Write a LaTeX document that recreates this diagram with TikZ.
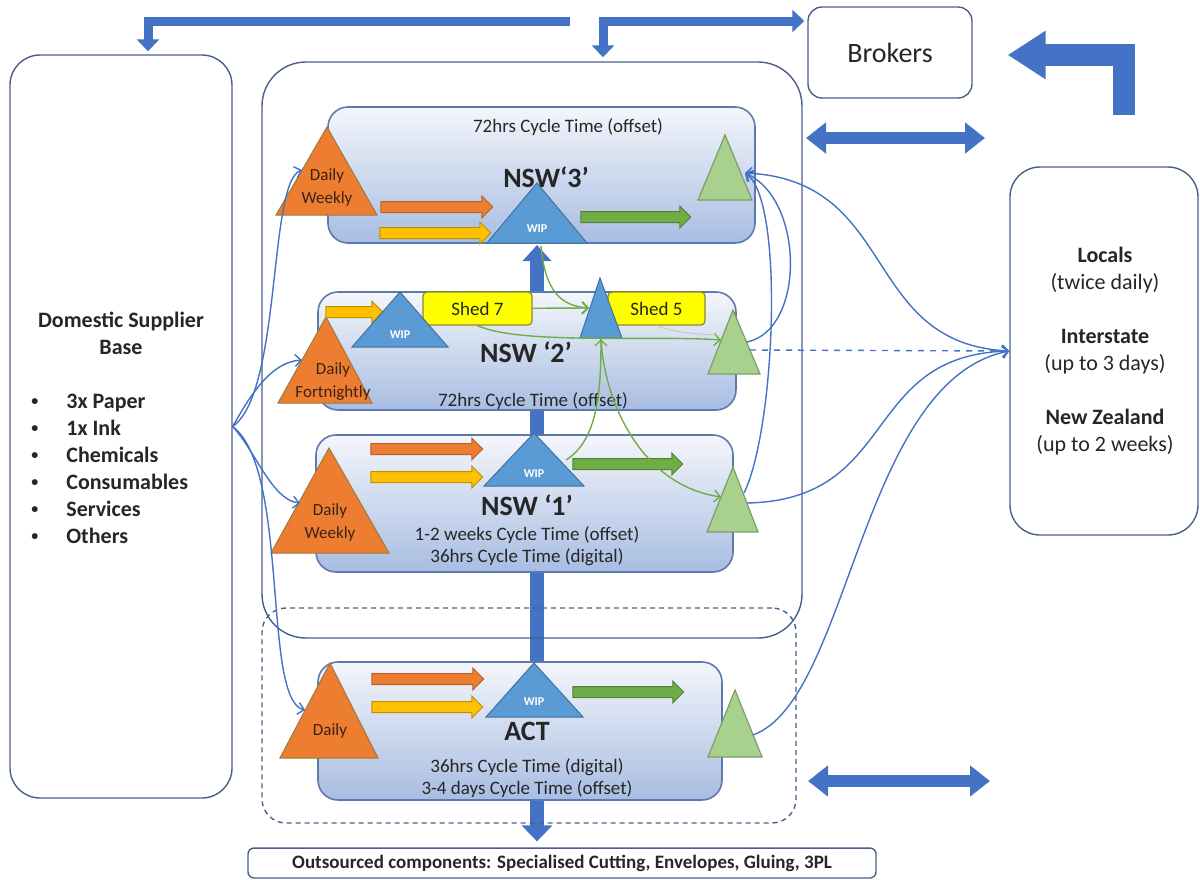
\documentclass[tikz,border=0pt]{standalone}
\usepackage{fontspec}
\setmainfont{Carlito}
\usetikzlibrary{arrows.meta,shapes.arrows}

\definecolor{linkblue}{HTML}{4472C4}
\definecolor{frame}{HTML}{4A5E8C}
\definecolor{plantedge}{HTML}{5D7AAE}
\definecolor{planttop}{HTML}{F4F6FB}
\definecolor{plantbot}{HTML}{A8BDE2}
\definecolor{supplyfill}{HTML}{ED7D31}
\definecolor{supplyedge}{HTML}{9A7B3A}
\definecolor{supplytext}{HTML}{3A2414}
\definecolor{orangeedge}{HTML}{B8612A}
\definecolor{feedfill}{HTML}{FFC000}
\definecolor{feededge}{HTML}{C09000}
\definecolor{wipfill}{HTML}{5B9BD5}
\definecolor{wipedge}{HTML}{41719C}
\definecolor{dispatchfill}{HTML}{A9D18E}
\definecolor{dispatchedge}{HTML}{7E9C6A}
\definecolor{movegreen}{HTML}{70AD47}
\definecolor{moveedge}{HTML}{548235}
\definecolor{shedfill}{HTML}{FFFF00}
\definecolor{shededge}{HTML}{8A8A30}
\definecolor{textdark}{HTML}{262626}

\begin{document}
\begin{tikzpicture}[x=0.5pt,y=-0.5pt,
  every node/.style={text=textdark},
  groupframe/.style={draw=frame, line width=0.7pt},
  plant/.style={draw=plantedge, line width=0.8pt, rounded corners=10pt, top color=planttop, bottom color=plantbot},
  supply/.style={fill=supplyfill, draw=supplyedge, line width=0.5pt},
  wip/.style={fill=wipfill, draw=wipedge, line width=0.5pt},
  dispatch/.style={fill=dispatchfill, draw=dispatchedge, line width=0.6pt},
  shed/.style={fill=shedfill, draw=shededge, line width=0.6pt, rounded corners=2pt, font=\fontsize{9.5}{11}\selectfont},
  blockarrow/.style={single arrow, minimum height=#1, inner sep=2.5pt, single arrow head extend=2.75pt, line width=0.5pt},
  orangearrow/.style={blockarrow=#1, fill=supplyfill, draw=orangeedge},
  yellowarrow/.style={blockarrow=#1, fill=feedfill, draw=feededge},
  greenarrow/.style={blockarrow=#1, fill=movegreen, draw=moveedge},
  cyclenote/.style={font=\fontsize{9.5}{11}\selectfont, align=center},
  plantname/.style={font=\bfseries\fontsize{14}{16}\selectfont},
  trilabel/.style={font=\fontsize{8.5}{11.5}\selectfont, text=supplytext, align=center},
  wiplabel/.style={font=\bfseries\fontsize{6}{7}\selectfont, text=white},
  trunk/.style={draw=linkblue, line width=7pt, {Triangle[width=15pt,length=8pt]}-{Triangle[width=14pt,length=8pt]}},
  bigflow/.style={draw=linkblue, line width=4.5pt, -{Triangle[width=11pt,length=6pt]}},
  dualflow/.style={draw=linkblue, line width=6pt, {Triangle[width=15pt,length=10pt]}-{Triangle[width=15pt,length=10pt]}},
  feedlink/.style={draw=linkblue, line width=0.7pt, -{Straight Barb[length=3pt,width=6pt]}},
  handoff/.style={draw=movegreen, line width=0.7pt, -{Straight Barb[length=3pt,width=6pt]}}]

\useasboundingbox (0,0) rectangle (1200,879);

\node[groupframe, rounded corners=3pt, minimum width=314pt, minimum height=14pt, font=\bfseries\fontsize{9.5}{11}\selectfont] (outs) at (562,863) {Outsourced components: Specialised Cutting, Envelopes, Gluing, 3PL};

\coordinate (w3b) at (537,245);
\draw[trunk, shorten <=3pt] (w3b |- outs.north) -- (w3b);

\node[groupframe, minimum width=270pt, minimum height=288pt, rounded corners=22pt] (nsw) at (532,350) {};
\node[groupframe, dashed, dash pattern=on 2.5pt off 2pt, minimum width=267pt, minimum height=107.5pt, rounded corners=12pt] (actzone) at (529,715.5) {};

\node[groupframe, rounded corners=15pt, minimum width=111pt, minimum height=371.5pt] (dom) at (121,426.5) {};
\node[align=center, font=\bfseries\fontsize{11}{13.5}\selectfont] (domtitle) at (121,333) {Domestic Supplier\\Base};
\foreach \thing [count=\i] in {3x Paper, 1x Ink, Chemicals, Consumables, Services, Others}
  \node[anchor=base west, inner sep=0pt, font=\bfseries\fontsize{11}{13.5}\selectfont] (item\i) at (31,381+27*\i) {{\fontsize{7}{7}\selectfont\raisebox{1.2pt}{\textbullet}}\hspace{14pt}\thing};

\node[groupframe, rounded corners=7pt, minimum width=82pt, minimum height=45.5pt, font=\fontsize{14}{16}\selectfont] (brk) at (890,52.5) {Brokers};

\node[groupframe, rounded corners=15pt, minimum width=94pt, minimum height=184pt] (dest) at (1104,351) {};
\node[align=center, font=\fontsize{11}{13.5}\selectfont] (destlist) at (1105,351.5) {\textbf{Locals}\\(twice daily)\\[13.5pt]\textbf{Interstate}\\(up to 3 days)\\[13.5pt]\textbf{New Zealand}\\(up to 2 weeks)};

\node[plant, minimum width=213.5pt, minimum height=68pt] (nsw3) at (541.5,175) {};
\node[plant, minimum width=209pt, minimum height=59pt] (nsw2) at (527,351) {};
\node[plant, minimum width=208.5pt, minimum height=68.5pt] (nsw1) at (524.5,503.5) {};
\node[plant, minimum width=202pt, minimum height=69pt] (act) at (520,731) {};

\coordinate (tfree) at (570,21);
\draw[bigflow] (tfree) -| ([xshift=13.5pt,yshift=1.5pt]dom.north);
\draw[bigflow, {Triangle[width=11pt,length=6pt]}-{Triangle[width=11pt,length=6pt]}] ([xshift=35.5pt,yshift=2pt]nsw.north) |- ([xshift=-1.5pt,yshift=15.75pt]brk.west);
\coordinate (lfree) at (1123.5,115);
\draw[draw=linkblue, line width=11pt, -{Triangle[width=23pt,length=19pt]}] (lfree) |- ([xshift=17.5pt,yshift=-1.25pt]brk.east);
\coordinate (du1) at (806,138);
\coordinate (du2) at (985,138);
\draw[dualflow] (du1) -- (du2);
\coordinate (dl1) at (808,781);
\coordinate (dl2) at (990,781);
\draw[dualflow] (dl1) -- (dl2);

\draw[supply] (276,215) -- (327,127) -- (377,215) -- cycle;
\draw[supply] (278,403) -- (326,317) -- (372,403) -- cycle;
\draw[supply] (271,553) -- (329,448) -- (389,553) -- cycle;
\draw[supply] (280,758) -- (330,663) -- (378,758) -- cycle;

\node[orangearrow=56pt] (a3o) at (434,207) {};
\node[yellowarrow=55.5pt] (a3y) at (432.5,233) {};
\node[greenarrow=55pt] (a3g) at (633,217) {};
\node[yellowarrow=28.5pt] (a2y) at (351.5,312) {};
\node[orangearrow=56pt] (a1o) at (424,449) {};
\node[yellowarrow=56pt] (a1y) at (424,477) {};
\node[greenarrow=55pt] (a1g) at (625,464) {};
\node[orangearrow=56pt] (aao) at (425,679) {};
\node[yellowarrow=55.5pt] (aay) at (424.5,707) {};
\node[greenarrow=55.5pt] (aag) at (625.5,692) {};

\node[shed, minimum width=54.5pt, minimum height=16.5pt] (shed7) at (477.5,308.5) {Shed 7};
\node[shed, minimum width=48.5pt, minimum height=16.5pt] (shed5) at (656.5,308.5) {Shed 5};

\draw[wip] (487,243) -- (537,183) -- (587,243) -- cycle;
\draw[wip] (352,347) -- (400,292) -- (448,347) -- cycle;
\draw[wip] (580,338) -- (600,278) -- (622,338) -- cycle;
\draw[wip] (484,486) -- (534,433) -- (584,486) -- cycle;
\draw[wip] (486,717) -- (534,663) -- (583,717) -- cycle;

\draw[dispatch] (698,200) -- (725,135) -- (752,200) -- cycle;
\draw[dispatch] (708,374) -- (733,310) -- (760,374) -- cycle;
\draw[dispatch] (707,532) -- (733,467) -- (758,532) -- cycle;
\draw[dispatch] (708,757) -- (735,690) -- (762,757) -- cycle;

\node[trilabel] (d3) at (327,187) {Daily\\Weekly};
\node[trilabel] (d2) at (333,382) {Daily\\Fortnightly};
\node[trilabel] (d1) at (330,522) {Daily\\Weekly};
\node[trilabel] (da) at (330,731) {Daily};

\node[wiplabel] (w3) at (537,229) {WIP};
\node[wiplabel] (w2) at (400,335) {WIP};
\node[wiplabel] (w1) at (534,474) {WIP};
\node[wiplabel] (wa) at (534,702) {WIP};

\node[cyclenote] (c3) at (568,127) {72hrs Cycle Time (offset)};
\node[plantname] (n3) at (546,177) {NSW`3'};
\node[plantname] (n2) at (526,352) {NSW `2'};
\node[cyclenote] (c2) at (533,401) {72hrs Cycle Time (offset)};
\node[plantname] (n1) at (527,505) {NSW `1'};
\node[cyclenote] (c1) at (527,546) {1-2 weeks Cycle Time (offset)\\36hrs Cycle Time (digital)};
\node[plantname] (na) at (527,731) {ACT};
\node[cyclenote] (ca) at (527,778) {36hrs Cycle Time (digital)\\3-4 days Cycle Time (offset)};

\coordinate (o3in) at (302,170);
\coordinate (o2in) at (302,360);
\coordinate (o1in) at (300,503);
\coordinate (oain) at (305,710);
\draw[feedlink] (dom.east) .. controls (282,392) and (268,182) .. (o3in);
\draw[feedlink] (dom.east) .. controls (252,392) and (272,362) .. (o2in);
\draw[feedlink] (dom.east) .. controls (256,452) and (272,500) .. (o1in);
\draw[feedlink] (dom.east) .. controls (290,470) and (262,700) .. (oain);

\coordinate (g3in) at (745,173);
\coordinate (g2out) at (747,342);
\coordinate (g2mid) at (750,350);
\coordinate (g1up) at (744,493);
\coordinate (g1out) at (747,503);
\coordinate (gaout) at (753,735);
\draw[feedlink] (dest.west) .. controls (860,345) and (900,180) .. (g3in);
\draw[feedlink] (g2out) .. controls (805,330) and (805,200) .. (g3in);
\draw[feedlink] (g1up) .. controls (775,430) and (785,200) .. (g3in);
\draw[feedlink, dashed] (g2mid) -- (dest.west);
\draw[feedlink] (g1out) .. controls (900,500) and (860,355) .. (dest.west);
\draw[feedlink] (gaout) .. controls (850,700) and (860,380) .. (dest.west);

\coordinate (w3g) at (541,246);
\coordinate (sin) at (589,308);
\coordinate (sb) at (601,339);
\coordinate (g2in) at (721,340);
\coordinate (g2faint) at (716,335);
\coordinate (w1r) at (566,460);
\coordinate (g1in) at (721,497);
\draw[handoff] (w3g) .. controls (545,290) and (560,306) .. (sin);
\draw[handoff] (shed7) -- (sin);
\draw[handoff] (shed7.south) .. controls (520,345) and (650,335) .. (g2in);
\draw[draw=gray!45, line width=0.5pt] (shed5.south) .. controls (675,333) and (700,334) .. (g2faint);
\draw[handoff] (w1r) .. controls (598,440) and (601,390) .. (sb);
\draw[handoff] (sb) .. controls (604,400) and (640,485) .. (g1in);

\end{tikzpicture}
\end{document}
